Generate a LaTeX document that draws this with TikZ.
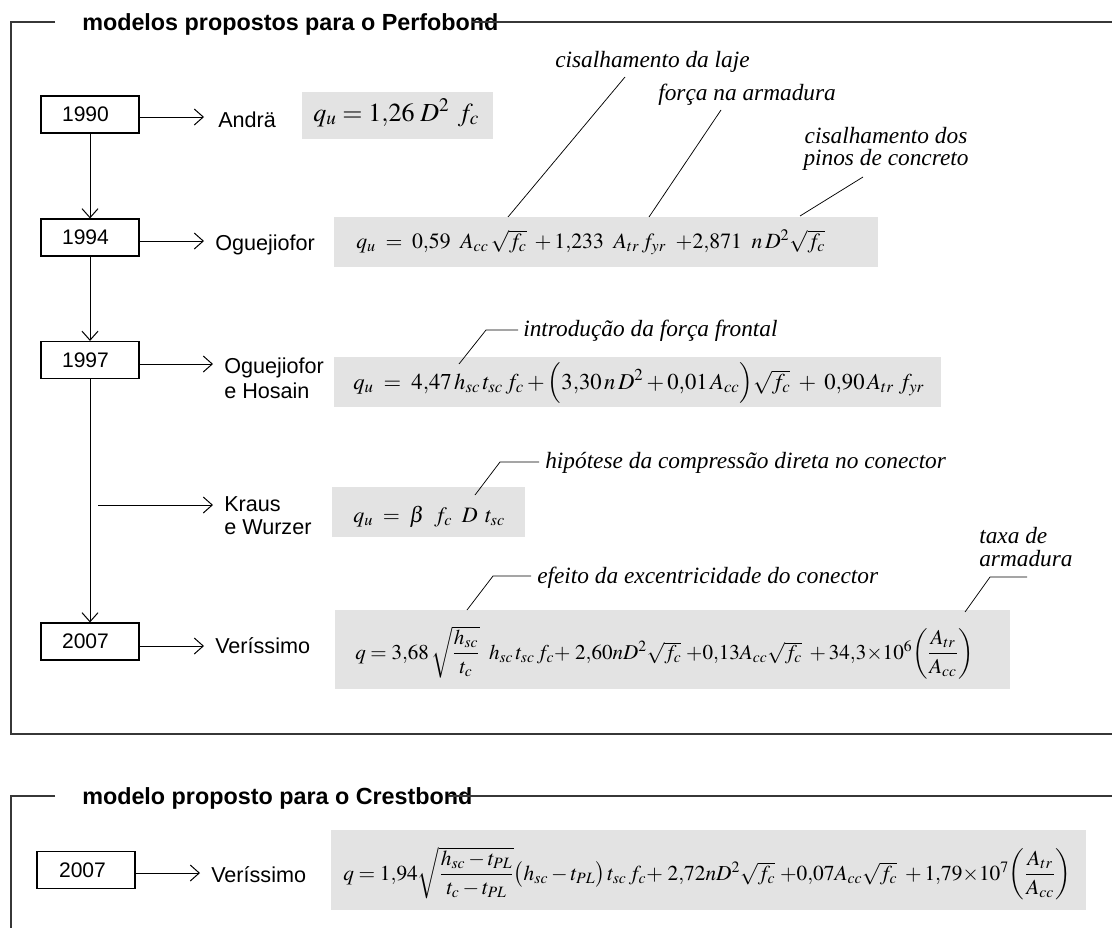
\documentclass[tikz,border=0pt]{standalone}
\usepackage{amsmath}
\usepackage{mathptmx}
\usepackage{fontspec}
\setmainfont{Liberation Serif}
\setsansfont{Liberation Sans}
\usetikzlibrary{arrows.meta}
\definecolor{formulabg}{RGB}{227,227,227}
\definecolor{framecol}{RGB}{55,55,55}
\tikzset{
 frame/.style={line width=1.1pt, draw=framecol},
 yearbox/.style={draw, line width=0.85pt, minimum width=73.5pt, minimum height=27.75pt, inner sep=0pt, font=\fontsize{15.8pt}{18pt}\selectfont\sffamily},
 arr/.style={line width=0.75pt, -{Straight Barb[length=6.75pt,width=12pt,line width=0.75pt]}},
 lab/.style={anchor=base west, inner sep=0pt, font=\fontsize{16.2pt}{18.75pt}\selectfont\sffamily},
 ttl/.style={anchor=base west, inner sep=0pt, font=\fontsize{17.5pt}{20pt}\selectfont\sffamily\bfseries},
 note/.style={anchor=base west, inner sep=0pt, font=\fontsize{17.5pt}{17.25pt}\selectfont\itshape},
 leader/.style={line width=0.55pt},
 fml/.style={anchor=base west, inner sep=0pt},
}
\begin{document}
\begin{tikzpicture}[x=0.75pt,y=-0.75pt]
\useasboundingbox[fill=white] (0,0) rectangle (1112,928);

% titles
\node[ttl] (title1) at (82,31) {modelos propostos para o Perfobond};
\node[ttl] (title2) at (82,804) {modelo proposto para o Crestbond};

% frames
\draw[frame] (55,22) -- (11,22) -- (11,734) -- (1112,734);
\draw[frame] (472,22) -- (1112,22);
\draw[frame] (55,796) -- (11,796) -- (11,928);
\draw[frame] (448,796) -- (1112,796);

% formula backgrounds
\fill[formulabg] (302,92) rectangle (493,139);
\fill[formulabg] (334,217) rectangle (878,267);
\fill[formulabg] (334,357) rectangle (941,407);
\fill[formulabg] (332,487) rectangle (525,537);
\fill[formulabg] (335,610) rectangle (1010,689);
\fill[formulabg] (331,830) rectangle (1086,910);

% year boxes
\node[yearbox] (b1) at (90,114.5) {1990\hspace*{6.75pt}};
\node[yearbox] (b2) at (90,237.5) {1994\hspace*{6.75pt}};
\node[yearbox] (b3) at (90,360) {1997\hspace*{6.75pt}};
\node[yearbox] (b4) at (90,641.5) {2007\hspace*{6.75pt}};
\node[yearbox] (b5) at (86,870) {2007\hspace*{5.25pt}};

% author labels
\node[lab] (n1) at (218,127) {Andrä};
\node[lab] (n2) at (215,250) {Oguejiofor};
\node[lab] (n3) at (224,373) {\begin{tabular}[t]{@{}l@{}}Oguejiofor\\e Hosain\end{tabular}};
\node[lab, font=\fontsize{16.2pt}{17.25pt}\selectfont\sffamily] (n4) at (224,511) {\begin{tabular}[t]{@{}l@{}}Kraus\\e Wurzer\end{tabular}};
\node[lab] (n5) at (215,653) {Veríssimo};
\node[lab] (n6) at (211,882) {Veríssimo};

% arrow targets
\coordinate (t1) at (204,117);
\coordinate (t2) at (204,241);
\coordinate (t3) at (213,364);
\coordinate (k0) at (98,505);
\coordinate (k1) at (213,505);
\coordinate (t4) at (204,646);
\coordinate (t5) at (200,873);

\draw[arr] (b1.east |- t1) -- (t1);
\draw[arr] (b2.east |- t2) -- (t2);
\draw[arr] (b3.east |- t3) -- (t3);
\draw[arr] (k0) -- (k1);
\draw[arr] (b4.east |- t4) -- (t4);
\draw[arr] (b5.east |- t5) -- (t5);
\draw[arr] (b1.south) -- (b2.north);
\draw[arr] (b2.south) -- (b3.north);
\draw[arr] (b3.south) -- (b4.north);

% formulas
\node[fml, font=\fontsize{19.5pt}{22pt}\selectfont] (f1) at (313,121)
 {$q_u = 1{,}26\;D^2\;\,f_c$};
\node[fml, font=\fontsize{16.3pt}{20pt}\selectfont] (f2) at (356,248)
 {$q_u\;=\;0{,}59\;\;A_{cc}\,\sqrt{f_c}\;+1{,}233\;\;A_{tr}\,f_{yr}\;\;{+}2{,}871\;\;n\,D^2\sqrt{f_c}$};
\node[fml, font=\fontsize{17pt}{20pt}\selectfont] (f3) at (353,389)
 {$q_u\;=\;4{,}47\,h_{sc}\,t_{sc}\,f_c+\Bigl(3{,}30\,n\,D^2+0{,}01\,A_{cc}\Bigr)\sqrt{f_c}\;+\;0{,}90\,A_{tr}\;f_{yr}$};
\node[fml, font=\fontsize{16.5pt}{20pt}\selectfont] (f4) at (353,522)
 {$q_u\;=\;\beta\;\;f_c\;\;D\;\,t_{sc}$};
\node[fml, font=\fontsize{15.8pt}{20pt}\selectfont] (f5) at (355,659)
 {$q=3{,}68\,\sqrt{\dfrac{h_{sc}}{t_c}}\;\;h_{sc}\,t_{sc}\,f_c{+}\;2{,}60nD^2\sqrt{f_c}\;{+}0{,}13A_{cc}\sqrt{f_c}\;+34{,}3{\times}10^6\!\left(\dfrac{A_{tr}}{A_{cc}}\right)$};
\node[fml, font=\fontsize{16pt}{20pt}\selectfont] (f6) at (343,880)
 {$q=1{,}94\sqrt{\dfrac{h_{sc}-t_{PL}}{t_c-t_{PL}}}\bigl(h_{sc}-t_{PL}\bigr)\,t_{sc}\,f_c{+}\;2{,}72nD^2\sqrt{f_c}\;{+}0{,}07A_{cc}\sqrt{f_c}\;+1{,}79{\times}10^7\!\left(\dfrac{A_{tr}}{A_{cc}}\right)$};

% annotations
\node[note] (a1) at (555,67) {cisalhamento da laje};
\node[note] (a2) at (658,100) {força na armadura};
\node[note, anchor=base, font=\fontsize{17.5pt}{16.5pt}\selectfont\itshape] (a3) at (886,143) {\begin{tabular}[t]{@{}c@{}}cisalhamento dos\\pinos de concreto\end{tabular}};
\node[note] (a4) at (523,336) {introdução da força frontal};
\node[note] (a5) at (545,468) {hipótese da compressão direta no conector};
\node[note] (a6) at (537,583) {efeito da excentricidade do conector};
\node[note] (a7) at (979,543) {\begin{tabular}[t]{@{}l@{}}taxa de\\armadura\end{tabular}};

% leaders
\coordinate (l1a) at (625,77); \coordinate (l1b) at (508,217);
\coordinate (l2a) at (721,110); \coordinate (l2b) at (649,217);
\coordinate (l3a) at (863,177); \coordinate (l3b) at (800,216);
\coordinate (l4a) at (459,364); \coordinate (l4b) at (486,330); \coordinate (l4c) at (518,330);
\coordinate (l5a) at (475,495); \coordinate (l5b) at (500,462); \coordinate (l5c) at (539,462);
\coordinate (l6a) at (467,610); \coordinate (l6b) at (493,576); \coordinate (l6c) at (531,576);
\coordinate (l7a) at (965,612); \coordinate (l7b) at (990,577); \coordinate (l7c) at (1027,577);
\draw[leader] (l1a) -- (l1b);
\draw[leader] (l2a) -- (l2b);
\draw[leader] (l3a) -- (l3b);
\draw[leader] (l4a) -- (l4b) -- (l4c);
\draw[leader] (l5a) -- (l5b) -- (l5c);
\draw[leader] (l6a) -- (l6b) -- (l6c);
\draw[leader] (l7a) -- (l7b) -- (l7c);
\end{tikzpicture}
\end{document}
